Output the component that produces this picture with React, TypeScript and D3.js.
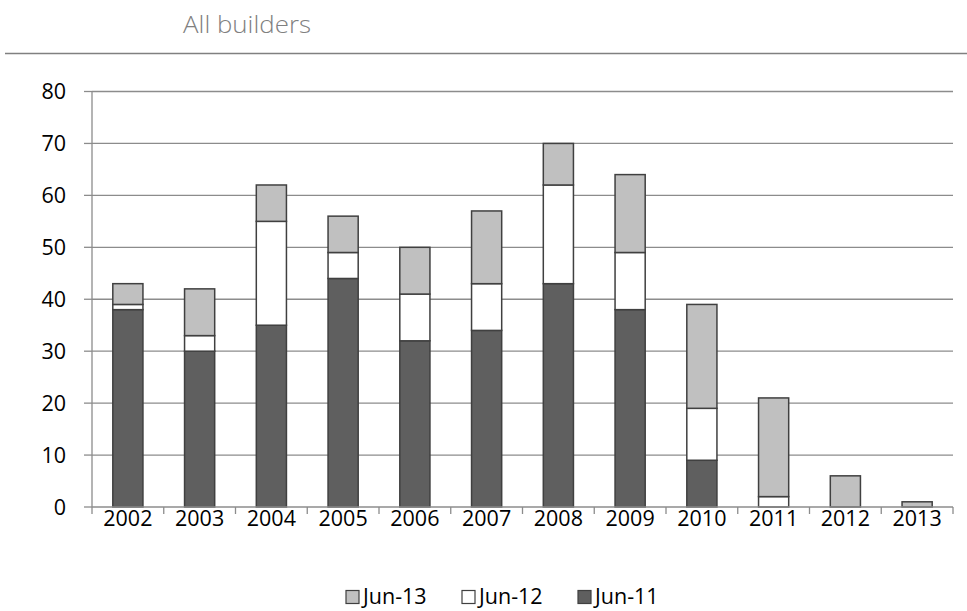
import React from "react";
import * as d3 from "d3";

const categories = ["2002","2003","2004","2005","2006","2007","2008","2009","2010","2011","2012","2013"];
const jun11 = [38,30,35,44,32,34,43,38,9,0,0,0];
const jun12 = [1,3,20,5,9,9,19,11,10,2,0,0];
const jun13 = [4,9,7,7,9,14,8,15,20,19,6,1];
const yTicks = [0,10,20,30,40,50,60,70,80];
const seriesNames = ["Jun-11","Jun-12","Jun-13"];
const seriesColors = ["#5f5f5f","#ffffff","#c0c0c0"];
const legendOrder = [2,1,0];

const W = 967, H = 611;
const left = 92, right = 953, top = 91.5, bottom = 507;
const font = "'Open Sans', 'Noto Sans', sans-serif";

export default function App() {
  const x = d3.scaleBand().domain(categories).range([left, right]).paddingInner(0.58).paddingOuter(0.29);
  const y = d3.scaleLinear().domain([0, 80]).range([bottom, top]);
  const table = categories.map((c, i) => ({ cat: c, s0: jun11[i], s1: jun12[i], s2: jun13[i] }));
  const stacked = d3.stack<any>().keys(["s0","s1","s2"])(table);
  const step = (right - left) / categories.length;

  return (
    <svg width={W} height={H} style={{ position: "absolute", left: 0, top: 0, background: "#fff" }}>
      <text x={183} y={33} fontFamily="'Open Sans', sans-serif" fontWeight={300} fontSize={23} fill="#808080" textLength={128} lengthAdjust="spacingAndGlyphs">All builders</text>
      <line x1={5} x2={967} y1={53.5} y2={53.5} stroke="#808080" strokeWidth={1.5} />
      {yTicks.map(t => (
        <g key={t}>
          {t > 0 && <line x1={left} x2={right} y1={y(t)} y2={y(t)} stroke="#8c8c8c" strokeWidth={1.3} />}
          <line x1={left - 8} x2={left} y1={y(t)} y2={y(t)} stroke="#8c8c8c" strokeWidth={1.3} />
          <text x={66} y={y(t)} dy="0.36em" textAnchor="end" fontFamily={font} fontSize={21.5} fill="#000">{t}</text>
        </g>
      ))}
      {stacked.map((layer, li) => (
        <g key={li}>
          {layer.map((d, i) => d[1] - d[0] > 0 ? (
            <rect key={i} x={x(categories[i])!} width={x.bandwidth()} y={y(d[1])} height={y(d[0]) - y(d[1])}
              fill={seriesColors[li]} stroke="#404040" strokeWidth={1.5} />
          ) : null)}
        </g>
      ))}
      <line x1={left} x2={left} y1={top} y2={bottom} stroke="#8c8c8c" strokeWidth={1.3} />
      <line x1={left} x2={right} y1={bottom} y2={bottom} stroke="#8c8c8c" strokeWidth={1.3} />
      {d3.range(categories.length + 1).map(i => (
        <line key={i} x1={left + i * step} x2={left + i * step} y1={bottom} y2={bottom + 7} stroke="#8c8c8c" strokeWidth={1.3} />
      ))}
      {categories.map(c => (
        <text key={c} x={x(c)! + x.bandwidth() / 2} y={526} textAnchor="middle" fontFamily={font} fontSize={21.5} fill="#000">{c}</text>
      ))}
      {legendOrder.map((si, k) => {
        const lx = 346 + k * 116;
        return (
          <g key={si}>
            <rect x={lx} y={590.5} width={13} height={13} fill={seriesColors[si]} stroke="#404040" strokeWidth={1.2} />
            <text x={lx + 17} y={604} fontFamily={font} fontSize={21.5} fill="#000">{seriesNames[si]}</text>
          </g>
        );
      })}
    </svg>
  );
}
